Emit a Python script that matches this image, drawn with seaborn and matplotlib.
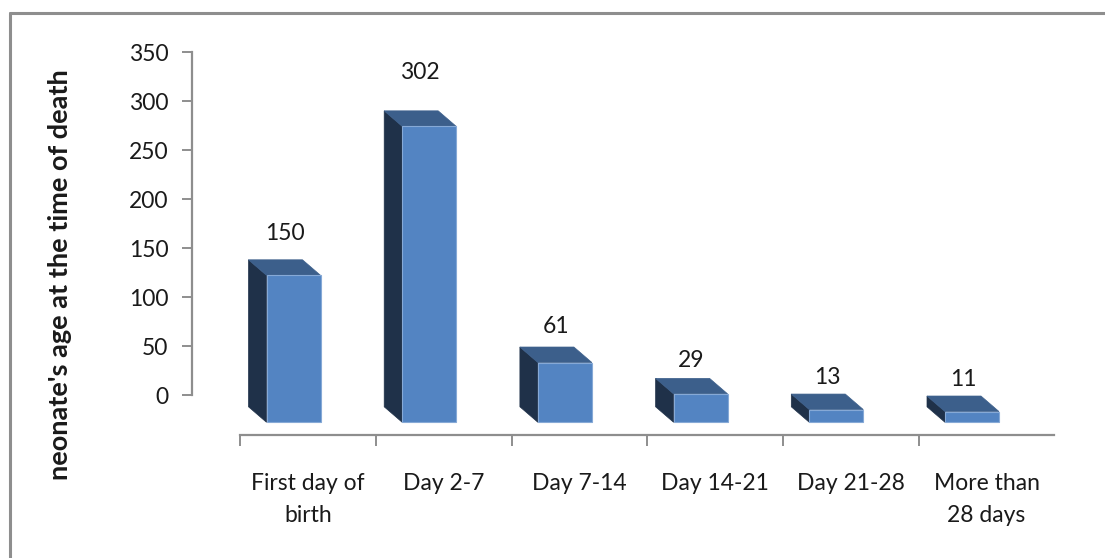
import matplotlib
matplotlib.use("Agg")
import matplotlib.pyplot as plt
import seaborn as sns
import pandas as pd
from matplotlib.transforms import ScaledTranslation
from matplotlib.patches import Polygon
from matplotlib.lines import Line2D
from matplotlib.ticker import FixedLocator

# ---- data ----
categories = ["First day of\nbirth", "Day 2-7", "Day 7-14", "Day 14-21", "Day 21-28", "More than\n28 days"]
values = [150, 302, 61, 29, 13, 11]
y_ticks = [0, 50, 100, 150, 200, 250, 300, 350]
y_label = "neonate's age at the time of death"

df = pd.DataFrame({"age": categories, "count": values})

sns.set_theme(style="white")
plt.rcParams['font.family'] = ['Lato', 'DejaVu Sans']

FRONT = "#5384c2"
SIDE = "#1f3149"
TOP = "#3c5f8b"
EDGE = "#86a9d6"
AXC = "#8e8e8e"
TXT = "#1a1a1a"
FS = 16.5

W, H = 1105, 558
fig = plt.figure(figsize=(W / 100, H / 100), dpi=100)

left_px, right_px = 192, 1054
top_px, bot_px = 52.3, 445
zero_px = 395.3
ppu = (zero_px - top_px) / 350.0
cat_w = 135.7
first_center = 308.0

ax = fig.add_axes([left_px / W, 1 - bot_px / H, (right_px - left_px) / W, (bot_px - top_px) / H])

sns.barplot(data=df, x="age", y="count", color=FRONT, saturation=1, width=54 / cat_w,
            edgecolor=EDGE, linewidth=0.8, ax=ax, zorder=3)

ax.set_xlim((left_px - first_center) / cat_w, (right_px - first_center) / cat_w)
ax.set_ylim(-(bot_px - zero_px) / ppu, 350)

# shift front faces (3-D look)
shift = ax.transData + ScaledTranslation(-14.5 / 100, -27 / 100, fig.dpi_scale_trans)
dxd = -18 / cat_w
dyd = 15.5 / ppu
bars = list(ax.patches)
for p, v in zip(bars, values):
    p.set_transform(shift)
    x, w, h, y0 = p.get_x(), p.get_width(), p.get_height(), p.get_y()
    side = Polygon([(x, y0), (x, y0 + h), (x + dxd, y0 + h + dyd), (x + dxd, y0 + dyd)],
                   closed=True, facecolor=SIDE, edgecolor=SIDE, linewidth=0.5, zorder=2)
    top = Polygon([(x, y0 + h), (x + w, y0 + h), (x + w + dxd, y0 + h + dyd), (x + dxd, y0 + h + dyd)],
                  closed=True, facecolor=TOP, edgecolor=TOP, linewidth=0.5, zorder=2)
    for poly in (side, top):
        poly.set_transform(shift)
        ax.add_patch(poly)
    ly = (4.3 + 1.053 * v) / ppu + 27 / ppu
    ax.text(x + w / 2 + dxd / 2, ly, f"{v}", transform=shift, ha="center", va="center",
            fontsize=FS, color=TXT)

# axes styling
for s in ("top", "right"):
    ax.spines[s].set_visible(False)
ax.spines["left"].set_bounds(0, 350)
ax.spines["left"].set_color(AXC)
ax.spines["left"].set_linewidth(1.6)
ax.spines["bottom"].set_position(("data", -(435 - zero_px) / ppu))
ax.spines["bottom"].set_bounds(-0.5, len(categories) - 0.5)
ax.spines["bottom"].set_color(AXC)
ax.spines["bottom"].set_linewidth(1.6)

ax.set_yticks(y_ticks)
ax.tick_params(axis="y", which="major", left=True, length=7, width=1.4, color=AXC,
               pad=10, labelsize=FS, labelcolor=TXT)
ax.xaxis.set_minor_locator(FixedLocator([i - 0.5 for i in range(len(categories) + 1)]))
ax.tick_params(axis="x", which="minor", bottom=True, length=8, width=1.4, color=AXC, direction="out")
ax.tick_params(axis="x", which="major", bottom=False, length=0, pad=27, labelsize=FS, labelcolor=TXT)
for t in ax.get_xticklabels():
    t.set_linespacing(1.7)
ax.set_xlabel("")
ax.set_ylabel(y_label, fontsize=19.5, fontweight="bold", color=TXT)
ax.yaxis.set_label_coords((72 - left_px) / (right_px - left_px), (bot_px - 275) / (bot_px - top_px))
ax.grid(False)
ax.patch.set_alpha(0)

# chart frame
fig.add_artist(Line2D([10 / W, 10 / W], [0, 1 - 13 / H], transform=fig.transFigure, color=AXC, lw=2.2))
fig.add_artist(Line2D([10 / W, 1], [1 - 13 / H, 1 - 13 / H], transform=fig.transFigure, color=AXC, lw=2.2))

fig.savefig("out.png", dpi=100)
